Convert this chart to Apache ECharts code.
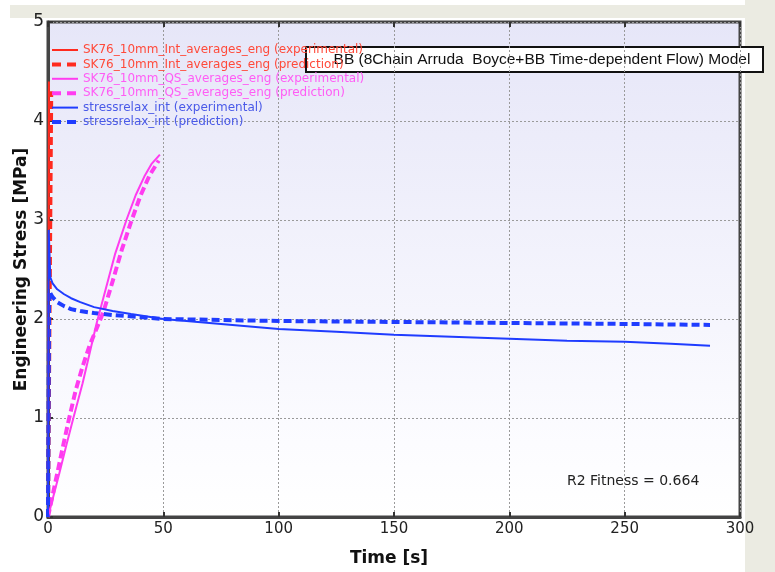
<!DOCTYPE html>
<html>
<head>
<meta charset="utf-8">
<style>
  html, body { margin: 0; padding: 0; background: #ffffff; }
  #chart { width: 775px; height: 572px; }
</style>
<script src="https://cdn.jsdelivr.net/npm/echarts@6/dist/echarts.min.js"></script>
</head>
<body>
<div id="chart"></div>
<script>
// Interrupted-loading test (red), near-instant rise at t ~ 0
const intExpTime = [0, 0.4];
const intExpStress = [0, 4.4];
const intPredTime = [0, 1.4];
const intPredStress = [0, 4.3];

// Quasi-static loading (magenta)
const qsExpTime = [0, 2, 5, 8, 11, 15, 18, 21, 25, 29, 34, 38, 42, 45, 48.5];
const qsExpStress = [0, 0.18, 0.45, 0.73, 1.0, 1.35, 1.65, 1.95, 2.3, 2.65, 3.0, 3.25, 3.45, 3.57, 3.66];
const qsPredTime = [0, 3, 6, 9, 12, 15, 18, 21, 24, 28, 32, 36, 40, 44, 48];
const qsPredStress = [0, 0.33, 0.66, 0.98, 1.28, 1.52, 1.73, 1.9, 2.07, 2.38, 2.7, 2.98, 3.24, 3.45, 3.6];

// Stress relaxation (blue)
const relaxExpTime = [0, 0.3, 1, 2, 4, 7, 10, 14, 20, 28, 36, 50, 65, 80, 100, 125, 150, 175, 200, 225, 250, 270, 287];
const relaxExpStress = [0, 2.9, 2.42, 2.36, 2.3, 2.25, 2.21, 2.17, 2.12, 2.08, 2.05, 2.0, 1.97, 1.94, 1.9, 1.87, 1.84, 1.82, 1.8, 1.78, 1.77, 1.75, 1.73];
const relaxPredTime = [0, 0.5, 2, 4, 7, 10, 14, 20, 28, 40, 50, 75, 100, 150, 200, 250, 287];
const relaxPredStress = [0, 2.28, 2.22, 2.17, 2.13, 2.1, 2.08, 2.06, 2.04, 2.02, 2.0, 1.99, 1.98, 1.97, 1.96, 1.95, 1.94];

const seriesNames = [
  'SK76_10mm_Int_averages_eng (experimental)',
  'SK76_10mm_Int_averages_eng (prediction)',
  'SK76_10mm_QS_averages_eng (experimental)',
  'SK76_10mm_QS_averages_eng (prediction)',
  'stressrelax_int (experimental)',
  'stressrelax_int (prediction)'
];

const xTicks = [0, 50, 100, 150, 200, 250, 300];
const yTicks = [0, 1, 2, 3, 4, 5];

const modelLabel = 'BB (8Chain Arruda  Boyce+BB Time-dependent Flow) Model';
const fitnessLabel = 'R2 Fitness = 0.664';

const zip = (xs, ys) => xs.map((x, i) => [x, ys[i]]);

const RED = '#ff2a1f', MAG = '#ff3cf0', BLUE = '#1f3cff';
const RED_T = '#ff4a3a', MAG_T = '#ff5cf5', BLUE_T = '#4a5ae8';

function lineSeries(name, data, color, dashed) {
  return {
    name: name,
    type: 'line',
    data: data,
    symbol: 'none',
    showSymbol: false,
    smooth: false,
    clip: true,
    z: dashed ? 3 : 4,
    lineStyle: dashed
      ? { color: color, width: 4, type: [8, 4] }
      : { color: color, width: 2 },
    itemStyle: { color: color }
  };
}

// legend entry: line sample only (marker hidden), dashes spaced for a 26px sample
function legendItem(name, textColor, dashed) {
  const item = { name: name, itemStyle: { opacity: 0 }, textStyle: { color: textColor } };
  if (dashed) item.lineStyle = { type: [9, 6], width: 4 };
  return item;
}

const chart = echarts.init(document.getElementById('chart'));

const axisLabelFont = { fontFamily: 'DejaVu Sans', color: '#222' };

chart.setOption({
  animation: false,
  grid: {
    left: 48, right: 35, top: 22, bottom: 55,
    outerBoundsMode: 'none',
    containLabel: false,
    show: true,
    borderColor: '#444',
    borderWidth: 3,
    backgroundColor: {
      type: 'linear', x: 0, y: 0, x2: 0, y2: 1,
      colorStops: [
        { offset: 0, color: '#e6e6f8' },
        { offset: 0.85, color: '#fcfcff' },
        { offset: 1, color: '#ffffff' }
      ]
    }
  },
  xAxis: [{
    type: 'value',
    min: xTicks[0], max: xTicks[xTicks.length - 1], interval: 50,
    name: 'Time [s]',
    nameLocation: 'middle',
    nameGap: 33,
    nameTextStyle: { fontFamily: 'DejaVu Sans', fontWeight: 'bold', fontSize: 17, color: '#111', padding: [0, 10, 0, 0] },
    axisLine: { show: true, lineStyle: { color: '#444', width: 3 } },
    axisTick: { show: true, inside: true, length: 5, lineStyle: { color: '#333', width: 2 } },
    axisLabel: Object.assign({ fontSize: 15, margin: 5 }, axisLabelFont),
    splitLine: { show: true, lineStyle: { color: '#9a9a9a', type: [2, 2], width: 1 } }
  }, {
    type: 'value', position: 'top',
    min: xTicks[0], max: xTicks[xTicks.length - 1], interval: 50,
    axisLine: { show: false },
    axisTick: { show: true, inside: true, length: 5, lineStyle: { color: '#333', width: 2 } },
    axisLabel: { show: false },
    splitLine: { show: false }
  }],
  yAxis: {
    type: 'value',
    min: yTicks[0], max: yTicks[yTicks.length - 1], interval: 1,
    name: 'Engineering Stress [MPa]',
    nameLocation: 'middle',
    nameGap: 18,
    nameMoveOverlap: false,
    nameTextStyle: { fontFamily: 'DejaVu Sans', fontWeight: 'bold', fontSize: 17, color: '#111' },
    axisLine: { show: true, lineStyle: { color: '#444', width: 3 } },
    axisTick: { show: true, inside: true, length: 5, lineStyle: { color: '#333', width: 2 } },
    axisLabel: Object.assign({ fontSize: 17, margin: 4 }, axisLabelFont),
    splitLine: { show: true, lineStyle: { color: '#9a9a9a', type: [2, 2], width: 1 } }
  },
  legend: {
    orient: 'vertical',
    left: 50, top: 43,
    itemWidth: 26, itemHeight: 10, itemGap: 0.4,
    padding: 0,
    textStyle: { fontFamily: 'DejaVu Sans', fontSize: 12, lineHeight: 14 },
    data: [
      legendItem(seriesNames[0], RED_T, false),
      legendItem(seriesNames[1], RED_T, true),
      legendItem(seriesNames[2], MAG_T, false),
      legendItem(seriesNames[3], MAG_T, true),
      legendItem(seriesNames[4], BLUE_T, false),
      legendItem(seriesNames[5], BLUE_T, true)
    ],
    selectedMode: false
  },
  series: [
    lineSeries(seriesNames[0], zip(intExpTime, intExpStress), RED, false),
    lineSeries(seriesNames[1], zip(intPredTime, intPredStress), RED, true),
    lineSeries(seriesNames[2], zip(qsExpTime, qsExpStress), MAG, false),
    lineSeries(seriesNames[3], zip(qsPredTime, qsPredStress), MAG, true),
    lineSeries(seriesNames[4], zip(relaxExpTime, relaxExpStress), BLUE, false),
    lineSeries(seriesNames[5], zip(relaxPredTime, relaxPredStress), BLUE, true)
  ],
  graphic: [
    // window chrome strips
    { type: 'rect', z: -10, shape: { x: 10, y: 5, width: 765, height: 13 }, style: { fill: '#ebebe2' } },
    { type: 'rect', z: -10, shape: { x: 745, y: 0, width: 30, height: 572 }, style: { fill: '#ebebe2' } },
    // model caption box
    {
      type: 'group', z: 100,
      children: [
        { type: 'rect', shape: { x: 306, y: 47, width: 457, height: 25 }, style: { fill: '#ffffff', stroke: '#111', lineWidth: 2 } },
        { type: 'text', style: { x: 542, y: 60, text: modelLabel, align: 'center', verticalAlign: 'middle', fill: '#111', font: '15.5px "Liberation Sans", Arial, sans-serif' } }
      ]
    },
    { type: 'text', z: 100, style: { x: 567, y: 481, text: fitnessLabel, verticalAlign: 'middle', fill: '#222', font: '14px "DejaVu Sans", sans-serif' } }
  ]
});
</script>
</body>
</html>
